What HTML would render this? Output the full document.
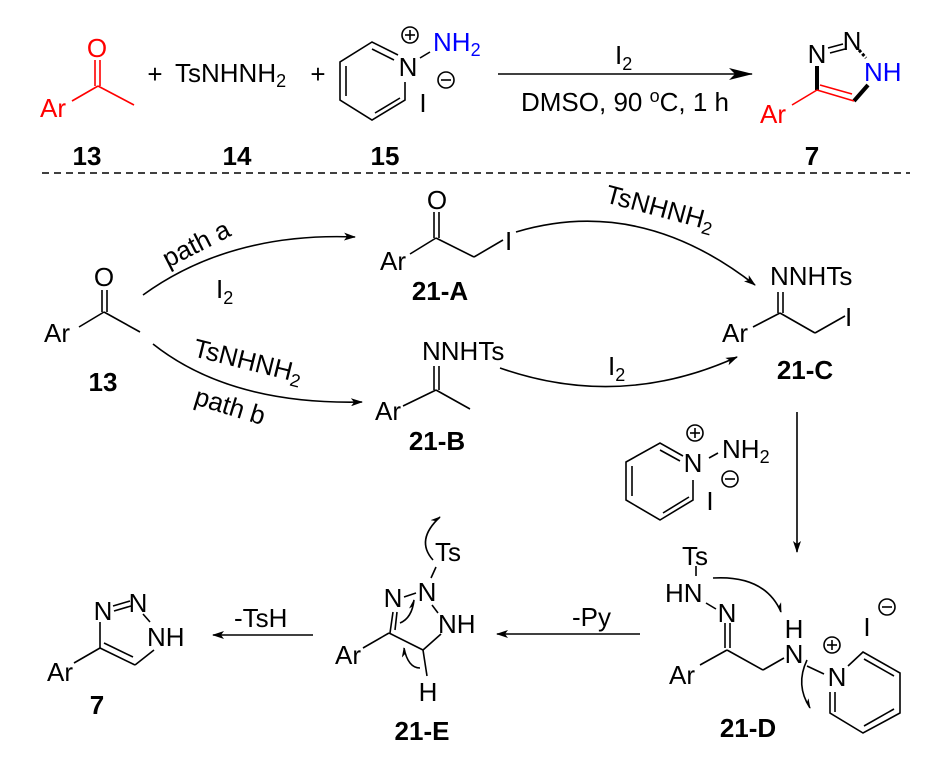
<!DOCTYPE html>
<html><head><meta charset="utf-8"><style>
html,body{margin:0;padding:0;background:#fff}
svg{display:block}
text{font-family:"Liberation Sans",sans-serif;font-size:26px;fill:#000}
.b{font-weight:bold}
.r{fill:#f00}.bl{fill:#00f}
.s{font-size:18px}
</style></head><body>
<svg width="944" height="759" viewBox="0 0 944 759" xmlns="http://www.w3.org/2000/svg">
<defs>
<marker id="ah" markerWidth="12" markerHeight="8" refX="11" refY="4" orient="auto" markerUnits="userSpaceOnUse">
<path d="M0,0 L12,4 L0,8 L3,4 Z" fill="#000"/></marker>
<marker id="ah2" markerWidth="24" markerHeight="12" refX="23" refY="6" orient="auto" markerUnits="userSpaceOnUse">
<path d="M0,0 L24,6 L0,12 L6,6 Z" fill="#000"/></marker>
<marker id="hh" markerWidth="10" markerHeight="8" refX="9" refY="4" orient="auto" markerUnits="userSpaceOnUse">
<path d="M0,0 L10,4 L3,4 Z" fill="#000"/></marker>
</defs>
<g stroke="#000" stroke-width="1.6" fill="none">
<g stroke="#f00"><line x1="95" y1="60" x2="95" y2="86"/><line x1="100" y1="60" x2="100" y2="86"/><line x1="98" y1="86" x2="72" y2="101"/><line x1="98" y1="86" x2="134" y2="105"/></g>
<polyline points="398,55 372,42 340,62 340,100 372,120 405,100 405,82"/>
<line x1="372" y1="49" x2="394" y2="60"/><line x1="346" y1="66" x2="346" y2="96"/><line x1="375" y1="113" x2="400" y2="98"/>
<line x1="420" y1="58" x2="430" y2="52"/>
<circle cx="410" cy="35" r="8"/><line x1="405" y1="35" x2="415" y2="35"/><line x1="410" y1="30" x2="410" y2="40"/>
<circle cx="446" cy="80" r="8"/><line x1="441" y1="80" x2="451" y2="80"/>
<line x1="498" y1="74" x2="752" y2="74" marker-end="url(#ah2)"/>
<line x1="828" y1="48" x2="843" y2="44"/><line x1="830" y1="53" x2="845" y2="49"/>
<line x1="859" y1="50" x2="866" y2="58" stroke-width="3" stroke-dasharray="3,2"/>
<line x1="868" y1="85" x2="854" y2="101" stroke-width="4"/>
<line x1="817" y1="66" x2="817" y2="90" stroke-width="4"/>
<g stroke="#f00"><line x1="817" y1="90" x2="854" y2="101"/><line x1="820" y1="85" x2="852" y2="94"/><line x1="817" y1="90" x2="792" y2="105"/></g>
<line x1="42" y1="173" x2="910" y2="173" stroke-dasharray="7,5"/>
<line x1="102" y1="290" x2="102" y2="312"/><line x1="107" y1="290" x2="107" y2="312"/>
<line x1="104" y1="312" x2="79" y2="327"/><line x1="104" y1="312" x2="140" y2="332"/>
<path d="M143,295 Q230,232 355,237" marker-end="url(#ah)"/>
<path d="M153,344 Q230,405 362,402" marker-end="url(#ah)"/>
<line x1="434" y1="212" x2="434" y2="238"/><line x1="439" y1="212" x2="439" y2="238"/>
<line x1="436" y1="238" x2="410" y2="254"/><line x1="436" y1="238" x2="474" y2="257"/><line x1="474" y1="257" x2="503" y2="240"/>
<path d="M516,232 Q640,195 755,285" marker-end="url(#ah)"/>
<line x1="434" y1="366" x2="434" y2="390"/><line x1="439" y1="366" x2="439" y2="390"/>
<line x1="436" y1="390" x2="403" y2="406"/><line x1="436" y1="390" x2="470" y2="409"/>
<path d="M500,368 Q620,410 737,357" marker-end="url(#ah)"/>
<line x1="778" y1="292" x2="778" y2="313"/><line x1="783" y1="292" x2="783" y2="313"/>
<line x1="780" y1="313" x2="753" y2="327"/><line x1="780" y1="313" x2="815" y2="333"/><line x1="815" y1="333" x2="845" y2="316"/>
<line x1="797" y1="412" x2="797" y2="552" marker-end="url(#ah)"/>
<polyline points="683,456 660,443 626,462 626,500 660,520 693,500 693,480"/>
<line x1="660" y1="450" x2="680" y2="461"/><line x1="632" y1="466" x2="632" y2="496"/><line x1="663" y1="513" x2="689" y2="497"/>
<line x1="709" y1="458" x2="718" y2="453"/>
<circle cx="695" cy="433" r="8"/><line x1="690" y1="433" x2="700" y2="433"/><line x1="695" y1="428" x2="695" y2="438"/>
<circle cx="730" cy="479" r="8"/><line x1="725" y1="479" x2="735" y2="479"/>
<line x1="696" y1="566" x2="696" y2="576"/>
<line x1="706" y1="603" x2="716" y2="609"/>
<line x1="725" y1="623" x2="725" y2="648"/><line x1="730" y1="623" x2="730" y2="648"/>
<line x1="727" y1="650" x2="700" y2="665"/><line x1="727" y1="650" x2="763" y2="670"/><line x1="763" y1="670" x2="784" y2="658"/>
<line x1="807" y1="666" x2="824" y2="674"/>
<circle cx="832" cy="645" r="8"/><line x1="827" y1="645" x2="837" y2="645"/><line x1="832" y1="640" x2="832" y2="650"/>
<polyline points="848,666 863,652 900,673 900,713 863,733 830,713 830,692"/>
<line x1="864" y1="659" x2="894" y2="676"/><line x1="864" y1="726" x2="894" y2="709"/><line x1="835" y1="692" x2="835" y2="712"/>
<circle cx="887" cy="607" r="8"/><line x1="882" y1="607" x2="892" y2="607"/>
<path d="M713,578 Q765,575 781,612" marker-end="url(#hh)"/>
<path d="M807,660 Q795,685 810,708" marker-end="url(#hh)"/>
<line x1="640" y1="634" x2="497" y2="634" marker-end="url(#ah)"/>
<line x1="404" y1="597" x2="416" y2="593"/>
<line x1="432" y1="605" x2="438" y2="613"/>
<line x1="436" y1="567" x2="431" y2="578"/>
<line x1="393" y1="612" x2="390" y2="633"/><line x1="397" y1="612" x2="395" y2="630"/>
<line x1="389" y1="633" x2="423" y2="650"/><line x1="423" y1="650" x2="441" y2="634"/><line x1="389" y1="633" x2="363" y2="648"/>
<line x1="423" y1="650" x2="427" y2="676"/>
<path d="M400,623 Q412,618 414,600" marker-end="url(#hh)"/>
<path d="M420,668 Q408,668 404,648" marker-end="url(#hh)"/>
<path d="M433,560 Q415,540 440,517" marker-end="url(#hh)"/>
<line x1="313" y1="635" x2="213" y2="635" marker-end="url(#ah)"/>
<line x1="113" y1="606" x2="130" y2="601"/><line x1="114" y1="611" x2="131" y2="606"/>
<line x1="143" y1="614" x2="150" y2="622"/>
<line x1="154" y1="650" x2="135" y2="665"/>
<line x1="100" y1="622" x2="100" y2="648"/>
<line x1="100" y1="648" x2="135" y2="665"/><line x1="104" y1="643" x2="133" y2="657"/>
<line x1="100" y1="648" x2="74" y2="663"/>
</g>
<text x="97" y="57" text-anchor="middle" class="r">O</text>
<text x="40" y="117" class="r">Ar</text>
<text x="87" y="165" text-anchor="middle" class="b">13</text>
<text x="155" y="83" text-anchor="middle">+</text>
<text x="175" y="82">TsNHNH<tspan class="s" dy="5">2</tspan></text>
<text x="237" y="165" text-anchor="middle" class="b">14</text>
<text x="318" y="83" text-anchor="middle">+</text>
<text x="408" y="76" text-anchor="middle">N</text>
<text x="433" y="51" class="bl">NH<tspan class="s" dy="5">2</tspan></text>
<text x="423" y="112" text-anchor="middle">I</text>
<text x="385" y="165" text-anchor="middle" class="b">15</text>
<text x="615" y="64">I<tspan class="s" dy="6">2</tspan></text>
<text x="625" y="111" text-anchor="middle">DMSO, 90 <tspan class="s" dy="-9">o</tspan><tspan dy="9">C, 1 h</tspan></text>
<text x="817" y="63" text-anchor="middle">N</text>
<text x="852" y="50" text-anchor="middle">N</text>
<text x="864" y="81" class="bl">NH</text>
<text x="760" y="123" class="r">Ar</text>
<text x="812" y="165" text-anchor="middle" class="b">7</text>
<text x="104" y="286" text-anchor="middle">O</text>
<text x="44" y="342">Ar</text>
<text x="103" y="391" text-anchor="middle" class="b">13</text>
<text transform="translate(168,268) rotate(-27)">path a</text>
<text x="216" y="298">I<tspan class="s" dy="6">2</tspan></text>
<text transform="translate(192,356) rotate(14)">TsNHNH<tspan class="s" dy="5">2</tspan></text>
<text transform="translate(193,404) rotate(17)">path b</text>
<text x="437" y="209" text-anchor="middle">O</text>
<text x="380" y="270">Ar</text>
<text x="505" y="250">I</text>
<text x="440" y="300" text-anchor="middle" class="b">21-A</text>
<text x="422" y="360">NNHTs</text>
<text x="375" y="420">Ar</text>
<text x="437" y="450" text-anchor="middle" class="b">21-B</text>
<text transform="translate(604,202) rotate(15)">TsNHNH<tspan class="s" dy="5">2</tspan></text>
<text x="608" y="375">I<tspan class="s" dy="6">2</tspan></text>
<text x="770" y="285">NNHTs</text>
<text x="722" y="342">Ar</text>
<text x="845" y="326">I</text>
<text x="805" y="379" text-anchor="middle" class="b">21-C</text>
<text x="693" y="472" text-anchor="middle">N</text>
<text x="722" y="458">NH<tspan class="s" dy="5">2</tspan></text>
<text x="710" y="510" text-anchor="middle">I</text>
<text x="695" y="565" text-anchor="middle">Ts</text>
<text x="665" y="602">HN</text>
<text x="727" y="622" text-anchor="middle">N</text>
<text x="669" y="684">Ar</text>
<text x="794" y="638" text-anchor="middle">H</text>
<text x="794" y="663" text-anchor="middle">N</text>
<text x="837" y="686" text-anchor="middle">N</text>
<text x="867" y="636" text-anchor="middle">I</text>
<text x="748" y="737" text-anchor="middle" class="b">21-D</text>
<text x="572" y="626">-Py</text>
<text x="448" y="561" text-anchor="middle">Ts</text>
<text x="393" y="607" text-anchor="middle">N</text>
<text x="427" y="601" text-anchor="middle">N</text>
<text x="438" y="633">NH</text>
<text x="335" y="664">Ar</text>
<text x="428" y="701" text-anchor="middle">H</text>
<text x="422" y="740" text-anchor="middle" class="b">21-E</text>
<text x="234" y="627">-TsH</text>
<text x="103" y="620" text-anchor="middle">N</text>
<text x="138" y="612" text-anchor="middle">N</text>
<text x="147" y="646">NH</text>
<text x="47" y="681">Ar</text>
<text x="97" y="714" text-anchor="middle" class="b">7</text>
</svg>
</body></html>
